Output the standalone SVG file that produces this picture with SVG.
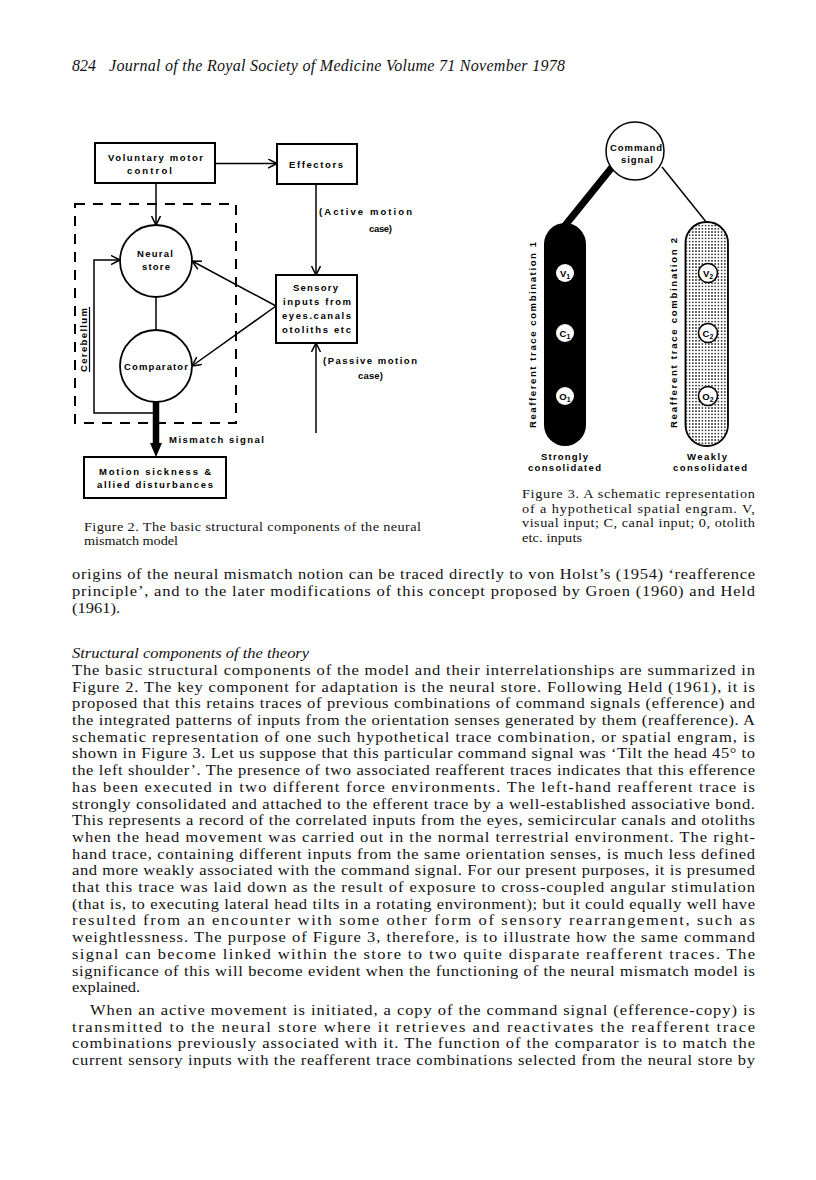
<svg xmlns="http://www.w3.org/2000/svg" width="816" height="1180" viewBox="0 0 816 1180">
<defs>
<style>
.lbl{font-family:"Liberation Sans",Arial,sans-serif;font-weight:bold;font-size:9.5px;fill:#000}
.sub{font-size:7px}
.body{font-family:"Liberation Serif","Times New Roman",serif;font-size:15px;fill:#111}
.it{font-style:italic}
.cap{font-family:"Liberation Serif","Times New Roman",serif;font-size:13.2px;fill:#111}
.hdr{font-family:"Liberation Serif","Times New Roman",serif;font-style:italic;font-size:16px;fill:#111}
.box{fill:#fff;stroke:#000;stroke-width:2}
.node{fill:#fff;stroke:#000;stroke-width:1.8}
.ln{stroke:#000;stroke-width:1.5;fill:none}
</style>
<marker id="ah" markerWidth="11" markerHeight="11" refX="9.5" refY="5" orient="auto" markerUnits="userSpaceOnUse">
<path d="M0.5,0.5 L9.5,5 L0.5,9.5" fill="none" stroke="#000" stroke-width="1.5"/>
</marker>
<pattern id="dots" width="3.2" height="3.2" patternUnits="userSpaceOnUse">
<rect width="3.2" height="3.2" fill="#fff"/>
<circle cx="1.6" cy="1.6" r="0.8" fill="#000"/>
</pattern>
</defs>
<rect width="816" height="1180" fill="#fff"/>

<g id="header">
<text class="hdr" x="72" y="71">824</text>
<text class="hdr" x="109" y="71" textLength="456" lengthAdjust="spacing">Journal of the Royal Society of Medicine Volume 71 November 1978</text>
</g>

<!-- Figure 2 -->
<g id="fig2-cerebellum">
<rect x="75" y="204" width="161" height="219" fill="none" stroke="#000" stroke-width="2" stroke-dasharray="10 8"/>
<text class="lbl" transform="translate(87,372) rotate(-90)" x="0" y="0" textLength="64" lengthAdjust="spacing">Cerebellum</text>
<line x1="89.5" y1="307" x2="89.5" y2="372" stroke="#000" stroke-width="1.2"/>
</g>

<g id="fig2-connectors">
<line class="ln" x1="215" y1="163.5" x2="277" y2="163.5" marker-end="url(#ah)"/>
<line class="ln" x1="156" y1="183" x2="156" y2="225" marker-end="url(#ah)"/>
<line class="ln" x1="316" y1="184" x2="316" y2="275" marker-end="url(#ah)"/>
<line class="ln" x1="316" y1="433" x2="316" y2="343" marker-end="url(#ah)"/>
<line class="ln" x1="276" y1="306" x2="192" y2="261" marker-end="url(#ah)"/>
<line class="ln" x1="276" y1="306" x2="192" y2="366" marker-end="url(#ah)"/>
<line class="ln" x1="156" y1="297" x2="156" y2="330"/>
<polyline class="ln" points="156,413 94,413 94,260 120,260" marker-end="url(#ah)"/>
<line x1="156" y1="402" x2="156" y2="446" stroke="#000" stroke-width="6.5"/>
<polygon points="150,443 162,443 156,457" fill="#000"/>
<text class="lbl" x="169" y="442.5" textLength="95" lengthAdjust="spacing">Mismatch signal</text>
<text class="lbl" x="319" y="215" textLength="93" lengthAdjust="spacing">(Active motion</text>
<text class="lbl" x="369" y="232" textLength="23" lengthAdjust="spacing">case)</text>
<text class="lbl" x="323" y="364" textLength="94" lengthAdjust="spacing">(Passive motion</text>
<text class="lbl" x="358" y="379" textLength="25" lengthAdjust="spacing">case)</text>
</g>

<g id="fig2-voluntary">
<rect class="box" x="95" y="143" width="120" height="40"/>
<text class="lbl" x="108" y="160.5" textLength="95" lengthAdjust="spacing">Voluntary motor</text>
<text class="lbl" x="127" y="173.5" textLength="45" lengthAdjust="spacing">control</text>
</g>

<g id="fig2-effectors">
<rect class="box" x="277" y="144" width="80" height="40"/>
<text class="lbl" x="289" y="167.5" textLength="54" lengthAdjust="spacing">Effectors</text>
</g>

<g id="fig2-neural-store">
<circle class="node" cx="156" cy="261" r="36"/>
<text class="lbl" x="137" y="256.5" textLength="36" lengthAdjust="spacing">Neural</text>
<text class="lbl" x="142" y="269.5" textLength="28" lengthAdjust="spacing">store</text>
</g>

<g id="fig2-comparator">
<circle class="node" cx="156" cy="366" r="36"/>
<text class="lbl" x="124" y="369.5" textLength="64" lengthAdjust="spacing">Comparator</text>
</g>

<g id="fig2-sensory">
<rect class="box" x="276" y="275" width="81" height="68"/>
<text class="lbl" x="293" y="290.5" textLength="45" lengthAdjust="spacing">Sensory</text>
<text class="lbl" x="283" y="305" textLength="68" lengthAdjust="spacing">inputs from</text>
<text class="lbl" x="282" y="319" textLength="69" lengthAdjust="spacing">eyes.canals</text>
<text class="lbl" x="282" y="333" textLength="69" lengthAdjust="spacing">otoliths etc</text>
</g>

<g id="fig2-motion-sickness">
<rect class="box" x="84" y="457" width="142" height="41"/>
<text class="lbl" x="99" y="474.5" textLength="112" lengthAdjust="spacing">Motion sickness &amp;</text>
<text class="lbl" x="97" y="487.5" textLength="116" lengthAdjust="spacing">allied disturbances</text>
</g>

<g id="fig2-caption" transform="scale(1.08,1)">
<text class="cap" x="77.78" y="531" textLength="312" lengthAdjust="spacing">Figure 2. The basic structural components of the neural</text>
<text class="cap" x="77.78" y="545.5" textLength="87" lengthAdjust="spacing">mismatch model</text>
</g>

<!-- Figure 3 -->
<g id="fig3-connectors">
<line x1="613" y1="166" x2="563" y2="228" stroke="#000" stroke-width="7"/>
<line x1="662" y1="167" x2="707" y2="223" stroke="#000" stroke-width="1.5"/>
</g>

<g id="fig3-command">
<circle cx="635" cy="151" r="29" fill="#fff" stroke="#000" stroke-width="1.5"/>
<text class="lbl" x="610" y="151" textLength="52" lengthAdjust="spacing">Command</text>
<text class="lbl" x="621" y="162.5" textLength="32" lengthAdjust="spacing">signal</text>
</g>

<g id="fig3-trace1">
<rect x="544" y="223" width="42" height="223" rx="21" ry="21" fill="#000"/>
<circle cx="565" cy="273" r="9" fill="#fff"/>
<text class="lbl" x="565" y="276.5" text-anchor="middle">V<tspan class="sub" dy="2">1</tspan></text>
<circle cx="565" cy="333" r="9" fill="#fff"/>
<text class="lbl" x="565" y="336.5" text-anchor="middle">C<tspan class="sub" dy="2">1</tspan></text>
<circle cx="565" cy="396" r="9" fill="#fff"/>
<text class="lbl" x="565" y="399.5" text-anchor="middle">O<tspan class="sub" dy="2">1</tspan></text>
<text class="lbl" transform="translate(536,428) rotate(-90)" x="0" y="0" textLength="186" lengthAdjust="spacing">Reafferent trace combination 1</text>
<text class="lbl" x="541" y="459.5" textLength="47" lengthAdjust="spacing">Strongly</text>
<text class="lbl" x="528" y="470.5" textLength="73" lengthAdjust="spacing">consolidated</text>
</g>

<g id="fig3-trace2">
<rect x="685.5" y="222" width="42.5" height="224" rx="21" ry="21" fill="url(#dots)" stroke="#000" stroke-width="1.8"/>
<circle cx="708" cy="273" r="9.5" fill="#fff" stroke="#000" stroke-width="1.6"/>
<text class="lbl" x="708" y="276.5" text-anchor="middle">V<tspan class="sub" dy="2">2</tspan></text>
<circle cx="708" cy="333" r="9.5" fill="#fff" stroke="#000" stroke-width="1.6"/>
<text class="lbl" x="708" y="336.5" text-anchor="middle">C<tspan class="sub" dy="2">2</tspan></text>
<circle cx="708" cy="396" r="9.5" fill="#fff" stroke="#000" stroke-width="1.6"/>
<text class="lbl" x="708" y="399.5" text-anchor="middle">O<tspan class="sub" dy="2">2</tspan></text>
<text class="lbl" transform="translate(677,428) rotate(-90)" x="0" y="0" textLength="190" lengthAdjust="spacing">Reafferent trace combination 2</text>
<text class="lbl" x="687" y="459.5" textLength="40" lengthAdjust="spacing">Weakly</text>
<text class="lbl" x="673" y="470.5" textLength="74" lengthAdjust="spacing">consolidated</text>
</g>

<g id="fig3-caption" transform="scale(1.08,1)">
<text class="cap" x="483.33" y="498" textLength="215.7" lengthAdjust="spacing">Figure 3. A schematic representation</text>
<text class="cap" x="483.33" y="512.7" textLength="215.7" lengthAdjust="spacing">of a hypothetical spatial engram. V,</text>
<text class="cap" x="483.33" y="527.4" textLength="215.7" lengthAdjust="spacing">visual input; C, canal input; 0, otolith</text>
<text class="cap" x="483.33" y="542.1" textLength="55.6" lengthAdjust="spacing">etc. inputs</text>
</g>

<g id="body-text" transform="scale(1.1,1)">
<text class="body" x="65.45" y="579" textLength="620.9" lengthAdjust="spacing">origins of the neural mismatch notion can be traced directly to von Holst’s (1954) ‘reafference</text>
<text class="body" x="65.45" y="596" textLength="620.9" lengthAdjust="spacing">principle’, and to the later modifications of this concept proposed by Groen (1960) and Held</text>
<text class="body" x="65.45" y="612.7">(1961).</text>
<text class="body it" x="65.45" y="658">Structural components of the theory</text>
<text class="body" x="65.45" y="675" textLength="620.9" lengthAdjust="spacing">The basic structural components of the model and their interrelationships are summarized in</text>
<text class="body" x="65.45" y="691.7" textLength="620.9" lengthAdjust="spacing">Figure 2. The key component for adaptation is the neural store. Following Held (1961), it is</text>
<text class="body" x="65.45" y="708.4" textLength="620.9" lengthAdjust="spacing">proposed that this retains traces of previous combinations of command signals (efference) and</text>
<text class="body" x="65.45" y="725.1" textLength="620.9" lengthAdjust="spacing">the integrated patterns of inputs from the orientation senses generated by them (reafference). A</text>
<text class="body" x="65.45" y="741.8" textLength="620.9" lengthAdjust="spacing">schematic representation of one such hypothetical trace combination, or spatial engram, is</text>
<text class="body" x="65.45" y="758.5" textLength="620.9" lengthAdjust="spacing">shown in Figure 3. Let us suppose that this particular command signal was ‘Tilt the head 45° to</text>
<text class="body" x="65.45" y="775.2" textLength="620.9" lengthAdjust="spacing">the left shoulder’. The presence of two associated reafferent traces indicates that this efference</text>
<text class="body" x="65.45" y="791.9" textLength="620.9" lengthAdjust="spacing">has been executed in two different force environments. The left-hand reafferent trace is</text>
<text class="body" x="65.45" y="808.6" textLength="620.9" lengthAdjust="spacing">strongly consolidated and attached to the efferent trace by a well-established associative bond.</text>
<text class="body" x="65.45" y="825.3" textLength="620.9" lengthAdjust="spacing">This represents a record of the correlated inputs from the eyes, semicircular canals and otoliths</text>
<text class="body" x="65.45" y="842" textLength="620.9" lengthAdjust="spacing">when the head movement was carried out in the normal terrestrial environment. The right-</text>
<text class="body" x="65.45" y="858.7" textLength="620.9" lengthAdjust="spacing">hand trace, containing different inputs from the same orientation senses, is much less defined</text>
<text class="body" x="65.45" y="875.4" textLength="620.9" lengthAdjust="spacing">and more weakly associated with the command signal. For our present purposes, it is presumed</text>
<text class="body" x="65.45" y="892.1" textLength="620.9" lengthAdjust="spacing">that this trace was laid down as the result of exposure to cross-coupled angular stimulation</text>
<text class="body" x="65.45" y="908.8" textLength="620.9" lengthAdjust="spacing">(that is, to executing lateral head tilts in a rotating environment); but it could equally well have</text>
<text class="body" x="65.45" y="925.5" textLength="620.9" lengthAdjust="spacing">resulted from an encounter with some other form of sensory rearrangement, such as</text>
<text class="body" x="65.45" y="942.2" textLength="620.9" lengthAdjust="spacing">weightlessness. The purpose of Figure 3, therefore, is to illustrate how the same command</text>
<text class="body" x="65.45" y="958.9" textLength="620.9" lengthAdjust="spacing">signal can become linked within the store to two quite disparate reafferent traces. The</text>
<text class="body" x="65.45" y="975.6" textLength="620.9" lengthAdjust="spacing">significance of this will become evident when the functioning of the neural mismatch model is</text>
<text class="body" x="65.45" y="992.3">explained.</text>
<text class="body" x="81.8" y="1015" textLength="604.5" lengthAdjust="spacing">When an active movement is initiated, a copy of the command signal (efference-copy) is</text>
<text class="body" x="65.45" y="1031.7" textLength="620.9" lengthAdjust="spacing">transmitted to the neural store where it retrieves and reactivates the reafferent trace</text>
<text class="body" x="65.45" y="1048.4" textLength="620.9" lengthAdjust="spacing">combinations previously associated with it. The function of the comparator is to match the</text>
<text class="body" x="65.45" y="1065.1" textLength="620.9" lengthAdjust="spacing">current sensory inputs with the reafferent trace combinations selected from the neural store by</text>
</g>
</svg>
